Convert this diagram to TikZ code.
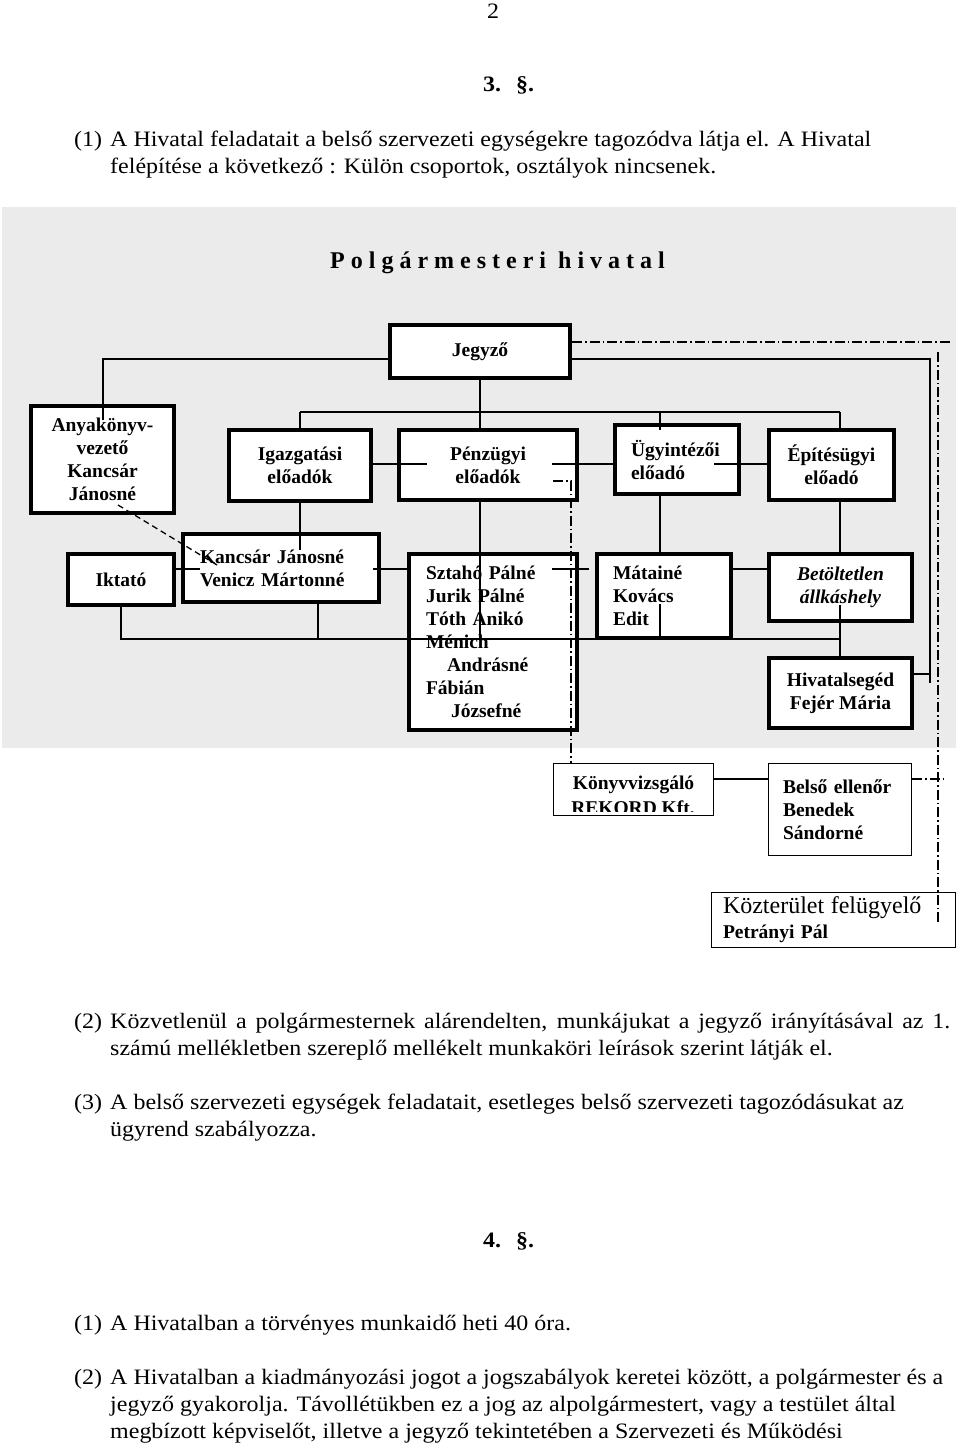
\documentclass[tikz,border=0pt]{standalone}
\usepackage{fontspec}
\setmainfont{Liberation Serif}
\newfontfamily\bodyfont[FakeStretch=1.09]{Liberation Serif}
\begin{document}
\begin{tikzpicture}[x=1pt,y=-1pt,
  box/.style={draw,line width=4pt,fill=white,inner sep=0pt,font=\fontsize{19.5}{23}\selectfont\bfseries,align=center},
  tbox/.style={draw,line width=1.3pt,fill=white,inner sep=0pt,font=\fontsize{19.5}{23}\selectfont\bfseries},
  link/.style={line width=1.3pt},
  dashdot/.style={line width=1.3pt,dash pattern=on 10pt off 3pt on 1.5pt off 3pt},
  dashln/.style={line width=1.3pt,dash pattern=on 6pt off 4pt},
  txt/.style={anchor=base west,inner sep=0pt,font=\bodyfont\fontsize{22}{27}\selectfont},
  btxt/.style={anchor=base west,inner sep=0pt,font=\fontsize{19.5}{23}\selectfont\bfseries},
]
\useasboundingbox (0,0) rectangle (960,1448);
\fill[white] (0,0) rectangle (960,1448);

% ---- text above ----
\node[txt] (pg) at (487,19) {2};
\node[txt,font=\bodyfont\fontsize{22}{27}\selectfont\bfseries] (s3) at (483,91) {\makebox[33pt][l]{3.}§.};
\node[txt] (p1n) at (74,146) {(1)};
\node[txt] (p1a) at (110,146) {A Hivatal feladatait a belső szervezeti egységekre tagozódva látja el. A Hivatal};
\node[txt] (p1b) at (110,173) {felépítése a következő : Külön csoportok, osztályok nincsenek.};

% ---- grey panel ----
\fill[black!8] (2,207) rectangle (956,748);
\node[anchor=base west,inner sep=0pt,font=\fontsize{24}{24}\selectfont\bfseries] (title) at (330,268) {P o l g á r m e s t e r i \ h i v a t a l};

% ---- boxes ----
\node[box,minimum width=180pt,minimum height=53pt] (jeg) at (480,351.5) {Jegyző};
\node[box,minimum width=143pt,minimum height=107pt] (anya) at (102.5,459.5) {Anyakönyv-\\vezető\\Kancsár\\Jánosné};
\node[box,minimum width=142pt,minimum height=71pt] (igaz) at (300,465.5) {Igazgatási\\előadók};
\node[box,minimum width=178pt,minimum height=70pt] (penz) at (488,465) {Pénzügyi\\előadók};
\node[box,minimum width=124pt,minimum height=69pt,text width=92pt,align=left] (ugy) at (677,459.5) {Ügyintézői\\előadó};
\node[box,minimum width=125pt,minimum height=70pt] (epit) at (831.5,465) {Építésügyi\\előadó};
\node[box,minimum width=106pt,minimum height=51pt] (ikt) at (121,579.5) {Iktató};
\node[box,minimum width=196pt,minimum height=68pt,text width=162pt,align=left] (kancs) at (281,568) {Kancsár Jánosné\\Venicz Mártonné};
\node[box,minimum width=168pt,minimum height=176pt,text width=134pt,align=left] (szt) at (493,642) {Sztahó Pálné\\Jurik Pálné\\Tóth Anikó\\Ménich\\\hspace*{21pt}Andrásné\\Fábián\\\hspace*{25pt}Józsefné};
\node[box,minimum width=134pt,minimum height=84pt,text width=102pt,align=left] (mat) at (664,596) {Mátainé\\Kovács\\Edit};
\node[box,minimum width=143pt,minimum height=67pt,font=\fontsize{19.5}{23}\selectfont\bfseries\itshape] (betol) at (840.5,587.5) {Betöltetlen\\állkáshely};
\node[box,minimum width=143pt,minimum height=70pt] (hiv) at (840.5,693) {Hivatalsegéd\\Fejér Mária};

\node[tbox,minimum width=159.7pt,minimum height=51.7pt] (konyv) at (633.5,789.5) {};
\begin{scope}
\clip (554,764) rectangle (713,811);
\node[btxt,anchor=base] (konyv1) at (633.5,789) {Könyvvizsgáló};
\node[btxt,anchor=base] (konyv2) at (633,814) {REKORD Kft.};
\end{scope}
\node[tbox,minimum width=142.7pt,minimum height=91.7pt,text width=114pt,align=left] (belso) at (840,809.5) {Belső ellenőr\\Benedek\\Sándorné};
\node[tbox,minimum width=243.7pt,minimum height=54.7pt,text width=221pt,align=left,font=\fontsize{19.5}{25}\selectfont] (kozt) at (833.5,920) {{\fontsize{24}{25}\selectfont Közterület felügyelő}\\\textbf{Petrányi Pál}};

% ---- coordinates ----
\coordinate (barL) at (300,412);
\coordinate (barR) at (840,412);
\coordinate (anyaIn) at (103,420);
\coordinate (ugyIn) at (660,430);
\coordinate (penzIn1) at (427,464);
\coordinate (penzIn2) at (552,464);
\coordinate (ugyIn2) at (714,464);
\coordinate (kancsIn) at (300,550);
\coordinate (kancsIn2) at (200,569);
\coordinate (kancsOut) at (373,569);
\coordinate (sztOut) at (552,569);
\coordinate (matEnd) at (589,569);
\coordinate (busY) at (0,639);
\coordinate (kancsB) at (318,604);
\coordinate (matIn) at (660,604);
\coordinate (betolIn) at (840,605);
\coordinate (rightX) at (930,359);
\coordinate (rightEnd) at (930,683);
\coordinate (dashA) at (118,505);
\coordinate (dashB) at (217,565);
\coordinate (ddTopEnd) at (950,342);
\coordinate (ddVtop) at (938,352);
\coordinate (ddVbot) at (938,925);
\coordinate (ddT) at (945,779);
\coordinate (ddP) at (553,481);
\coordinate (ddPc) at (571,481);

% ---- solid connectors ----
\draw[link] (jeg.west |- 0,359) -- (anyaIn |- 0,359) -- (anyaIn);
\draw[link] (jeg.south) -- (jeg.south |- barL);
\draw[link] (barL) -- (barR);
\draw[link] (barL) -- (igaz.north);
\draw[link] (jeg.south |- barL) -- (jeg.south |- penz.north);
\draw[link] (ugyIn |- barL) -- (ugyIn);
\draw[link] (barR) -- (barR |- epit.north);
\draw[link] (igaz.east |- penzIn1) -- (penzIn1);
\draw[link] (penzIn2) -- (ugy.west |- penzIn2);
\draw[link] (ugyIn2) -- (epit.west |- ugyIn2);
\draw[link] (igaz.south) -- (kancsIn);
\draw[link] (jeg.south |- penz.south) -- (jeg.south |- busY);
\draw[link] (ugyIn |- ugy.south) -- (ugyIn |- mat.north);
\draw[link] (barR |- epit.south) -- (barR |- betol.north);
\draw[link] (ikt.east |- kancsIn2) -- (kancsIn2);
\draw[link] (kancsOut) -- (szt.west |- kancsOut);
\draw[link] (sztOut) -- (matEnd);
\draw[link] (mat.east |- sztOut) -- (betol.west |- sztOut);
\draw[link] (ikt.south) -- (ikt.south |- busY) -- (barR |- busY);
\draw[link] (kancsB) -- (kancsB |- busY);
\draw[link] (matIn) -- (matIn |- busY);
\draw[link] (betolIn) -- (hiv.north -| betolIn);
\draw[link] (jeg.east |- rightX) -- (rightX) -- (rightEnd);
\draw[link] (hiv.east |- 0,674) -- (rightX |- 0,674);
\draw[link] (konyv.east |- 0,779) -- (belso.west |- 0,779);

% ---- dashed ----
\draw[dashln] (dashA) -- (dashB);

% ---- dash-dot ----
\draw[dashdot] (jeg.east |- ddTopEnd) -- (ddTopEnd);
\draw[dashdot] (ddVtop) -- (ddVbot);
\draw[dashdot] (belso.east |- ddT) -- (ddT);
\draw[dashdot] (ddP) -- (ddPc) -- (ddPc |- konyv.north);

% ---- text below ----
\node[txt] (p2n) at (74,1028) {(2)};
\node[txt] (p2a) at (110,1028) {\makebox[840pt][s]{Közvetlenül a polgármesternek alárendelten, munkájukat a jegyző irányításával az 1.}};
\node[txt] (p2b) at (110,1055) {számú mellékletben szereplő mellékelt munkaköri leírások szerint látják el.};
\node[txt] (p3n) at (74,1109) {(3)};
\node[txt] (p3a) at (110,1109) {A belső szervezeti egységek feladatait, esetleges belső szervezeti tagozódásukat az};
\node[txt] (p3b) at (110,1136) {ügyrend szabályozza.};
\node[txt,font=\bodyfont\fontsize{22}{27}\selectfont\bfseries] (s4) at (483,1247) {\makebox[33pt][l]{4.}§.};
\node[txt] (q1n) at (74,1330) {(1)};
\node[txt] (q1a) at (110,1330) {A Hivatalban a törvényes munkaidő heti 40 óra.};
\node[txt] (q2n) at (74,1384) {(2)};
\node[txt] (q2a) at (110,1384) {A Hivatalban a kiadmányozási jogot a jogszabályok keretei között, a polgármester és a};
\node[txt] (q2b) at (110,1411) {jegyző gyakorolja. Távollétükben ez a jog az alpolgármestert, vagy a testület által};
\node[txt] (q2c) at (110,1438) {megbízott képviselőt, illetve a jegyző tekintetében a Szervezeti és Működési};
\end{tikzpicture}
\end{document}
